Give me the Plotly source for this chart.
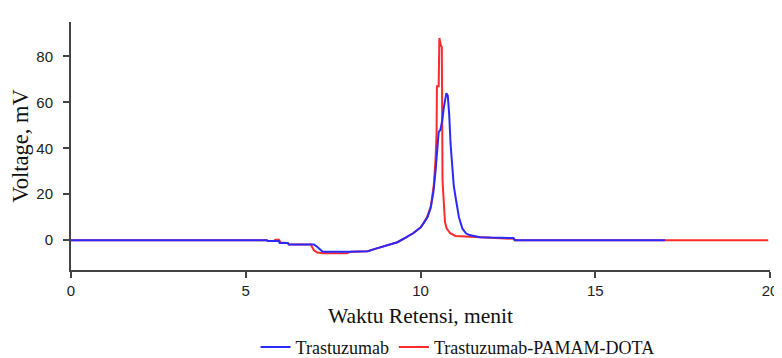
import plotly.graph_objects as go

# Trastuzumab (blue)
blue_x = [0, 5.6, 5.63, 5.95, 5.97, 6.2, 6.23, 6.95, 7.05, 7.2, 8.0, 8.49, 8.7, 8.86, 9.1, 9.34,
          9.6, 9.8, 10.0, 10.09, 10.2, 10.29, 10.37, 10.43, 10.48, 10.52, 10.57, 10.62, 10.67,
          10.71, 10.74, 10.78, 10.82, 10.86, 10.9, 10.95, 11.0, 11.1, 11.2, 11.3, 11.4, 11.7,
          12.0, 12.66, 12.7, 17.0]
blue_y = [0, 0, -0.4, -0.4, -1.2, -1.2, -1.9, -1.9, -3.0, -5.0, -5.0, -4.8, -3.8, -3.0, -2.0, -0.9,
          1.3, 3.1, 5.5, 7.4, 10, 14, 21, 30, 40, 47, 48, 52, 58,
          62, 64, 63, 55, 42, 32, 24, 19, 10, 5, 3, 2.2, 1.3,
          1.1, 0.9, 0, 0]

# Trastuzumab-PAMAM-DOTA (red)
red_x = [0, 5.6, 5.63, 5.8, 5.85, 5.95, 6.0, 6.2, 6.25, 6.86, 6.95, 7.05, 7.2, 7.9, 8.0, 8.49,
         8.7, 8.86, 9.1, 9.34, 9.6, 9.8, 10.0, 10.09, 10.2, 10.3, 10.38, 10.43, 10.46, 10.47,
         10.52, 10.54, 10.58, 10.61, 10.63, 10.66, 10.7, 10.75, 10.85, 11.0, 11.3, 12.0,
         12.66, 12.7, 19.95]
red_y = [0, 0, -0.4, -0.4, 0.2, 0.2, -1.0, -1.2, -1.9, -1.9, -4.4, -5.4, -5.7, -5.7, -5.0, -4.8,
         -3.8, -3.0, -2.0, -0.9, 1.3, 3.1, 5.5, 7.4, 10.5, 15, 24, 35, 47, 67,
         67, 88, 85, 84, 26, 20, 8, 5, 3, 1.8, 1.5, 1.0,
         0.6, 0, 0]

x_ticks = [0, 5, 10, 15, 20]
y_ticks = [0, 20, 40, 60, 80]

fig = go.Figure()
fig.add_trace(go.Scatter(x=red_x, y=red_y, mode="lines", name="Trastuzumab-PAMAM-DOTA",
                         line=dict(color="#ff2a2a", width=2), legendrank=2))
fig.add_trace(go.Scatter(x=blue_x, y=blue_y, mode="lines", name="Trastuzumab",
                         line=dict(color="#2a2aff", width=2), legendrank=1))

# page has an 8px body margin, so the figure is 774x350 and offset by (8, 8)
fig.update_layout(
    width=774, height=350,
    margin=dict(l=63, r=12, t=14, b=88, autoexpand=False),
    plot_bgcolor="white", paper_bgcolor="white",
    showlegend=True,
    legend=dict(orientation="h", x=0.553, xanchor="center", y=-0.312, yanchor="middle",
                font=dict(family="Liberation Serif", size=18, color="#111"),
                itemwidth=30, bgcolor="rgba(0,0,0,0)"),
    xaxis=dict(range=[0, 20], tickvals=x_ticks, showgrid=False, zeroline=False,
               showline=True, linecolor="#444", linewidth=2, ticks="outside", ticklen=6,
               tickcolor="#444", tickwidth=2, automargin=False,
               tickfont=dict(family="Liberation Sans", size=15, color="#222"),
               title=dict(text="Waktu Retensi, menit", standoff=10,
                          font=dict(family="Liberation Serif", size=21.5, color="#111"))),
    yaxis=dict(range=[-13, 95], tickvals=y_ticks, showgrid=False, zeroline=False,
               showline=True, linecolor="#444", linewidth=2, ticks="outside", ticklen=6,
               tickcolor="#444", tickwidth=2, automargin=False, ticklabelstandoff=7,
               tickfont=dict(family="Liberation Sans", size=15, color="#222"),
               title=dict(text="Voltage, mV", standoff=11,
                          font=dict(family="Liberation Serif", size=22.5, color="#111"))),
)

fig.write_html("out.html")
